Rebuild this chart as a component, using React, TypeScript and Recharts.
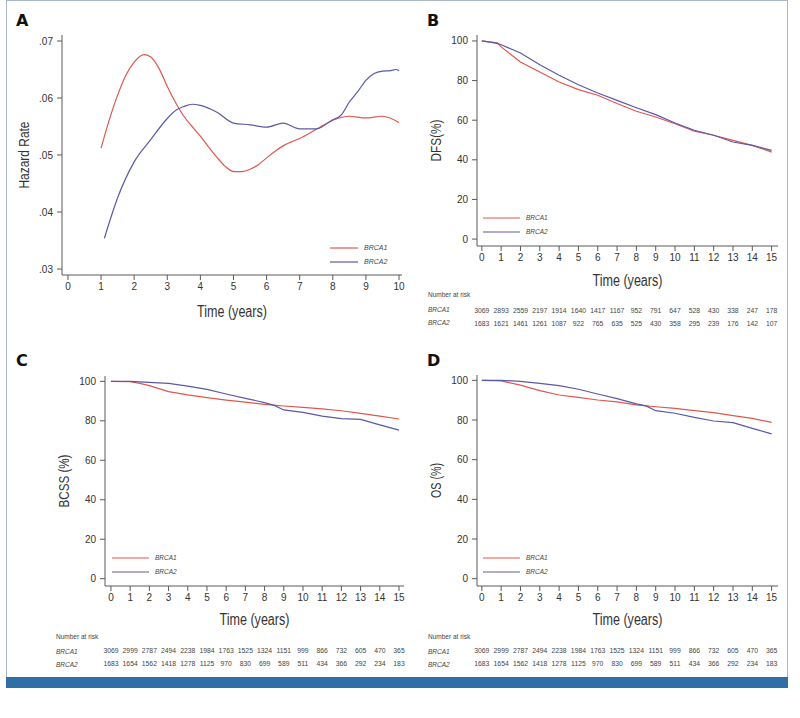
import { LineChart, Line, XAxis, YAxis, Legend } from 'recharts'

const RED = '#e0574f'
const BLUE = '#5a59a6'
const AXIS = '#5a5a5a'
const INK = '#333'
const SANS = '"Liberation Sans", Arial, sans-serif'

// Panel A - smoothed hazard rate
const hazTimes1 = [1.0, 1.25, 1.5, 1.75, 2.0, 2.3, 2.5, 2.75, 3.0, 3.25, 3.5, 3.75, 4.0, 4.25, 4.5, 4.75, 5.0, 5.25, 5.5, 5.75, 6.0, 6.25, 6.5, 6.75, 7.0, 7.5, 8.0, 8.5, 9.0, 9.5, 10.0]
const hazBrca1 = [0.0512, 0.0562, 0.0605, 0.064, 0.0663, 0.0676, 0.0672, 0.0652, 0.062, 0.0592, 0.0568, 0.055, 0.0533, 0.0514, 0.0496, 0.048, 0.0471, 0.0471, 0.0475, 0.0483, 0.0495, 0.0506, 0.0516, 0.0523, 0.0529, 0.0545, 0.0561, 0.0568, 0.0565, 0.0568, 0.0557]
const hazTimes2 = [1.1, 1.5, 2.0, 2.5, 3.0, 3.25, 3.5, 3.75, 4.0, 4.5, 5.0, 5.5, 6.0, 6.5, 7.0, 7.5, 8.0, 8.25, 8.5, 8.75, 9.0, 9.25, 9.5, 9.75, 9.9, 10.0]
const hazBrca2 = [0.0354, 0.0425, 0.0488, 0.0527, 0.0564, 0.0578, 0.0585, 0.0589, 0.0587, 0.0575, 0.0556, 0.0553, 0.0549, 0.0556, 0.0546, 0.0546, 0.0562, 0.057, 0.0593, 0.0611, 0.0631, 0.0643, 0.0647, 0.0648, 0.065, 0.0648]
const hazXTicks = [0, 1, 2, 3, 4, 5, 6, 7, 8, 9, 10]
const hazYTicks = [0.03, 0.04, 0.05, 0.06, 0.07]

// Panels B-D - Kaplan-Meier curves
const years = [0, 1, 2, 3, 4, 5, 6, 7, 8, 9, 10, 11, 12, 13, 14, 15]
const pctTicks = [0, 20, 40, 60, 80, 100]

const dfsTimes = [0, 0.8, 1, 2, 3, 4, 5, 6, 7, 8, 9, 10, 11, 12, 13, 14, 15]
const dfsBrca1 = [100, 99, 97, 89.4, 84.3, 79.3, 75.4, 72.6, 68.4, 64.5, 61.6, 58.2, 54.5, 52.4, 49.8, 47.3, 43.9]
const dfsBrca2 = [100, 98.8, 98.1, 93.9, 88, 82.7, 77.9, 73.7, 70, 66.3, 62.8, 58.6, 54.9, 52.4, 49, 47.3, 44.8]

const bcssTimes1 = [0, 1, 1.5, 2, 3, 4, 5, 6, 7, 8, 9, 10, 11, 12, 13, 14, 15]
const bcssBrca1 = [100, 99.8, 99, 97.8, 94.8, 93.1, 91.7, 90.5, 89.5, 88.3, 87.5, 86.8, 86, 85.1, 83.8, 82.4, 80.9]
const bcssTimes2 = [0, 1, 2, 3, 4, 5, 6, 7, 8, 8.5, 9, 10, 11, 12, 13, 14, 15]
const bcssBrca2 = [100, 100, 99.5, 99, 97.6, 95.9, 93.6, 91.4, 89.2, 87.8, 85.5, 84.3, 82.4, 81.1, 80.7, 77.9, 75.3]

const osTimes1 = [0, 1, 2, 3, 4, 5, 6, 7, 8, 9, 10, 11, 12, 13, 14, 15]
const osBrca1 = [100, 99.7, 97.6, 94.8, 92.6, 91.4, 90.1, 89.1, 87.6, 86.7, 85.9, 84.7, 83.7, 82.2, 80.8, 78.8]
const osTimes2 = [0, 1, 2, 3, 4, 5, 6, 7, 8, 8.5, 9, 10, 11, 12, 13, 14, 15]
const osBrca2 = [100, 100, 99.5, 98.5, 97.3, 95.5, 93.1, 90.8, 88.1, 87.1, 84.7, 83.4, 81.3, 79.5, 78.7, 75.8, 73]

// Number at risk
const dfsRisk1 = [3069, 2893, 2559, 2197, 1914, 1640, 1417, 1167, 952, 791, 647, 528, 430, 338, 247, 178]
const dfsRisk2 = [1683, 1621, 1461, 1261, 1087, 922, 765, 635, 525, 430, 358, 295, 239, 176, 142, 107]
const survRisk1 = [3069, 2999, 2787, 2494, 2238, 1984, 1763, 1525, 1324, 1151, 999, 866, 732, 605, 470, 365]
const survRisk2 = [1683, 1654, 1562, 1418, 1278, 1125, 970, 830, 699, 589, 511, 434, 366, 292, 234, 183]

const pts = (t: number[], v: number[]) => t.map((x, i) => ({ t: x, v: v[i] }))

function makeTick(risk1?: number[], risk2?: number[]) {
  return (props: any) => {
    const { x, y, payload } = props
    const i = payload.value
    const numStyle = { fontSize: 6.8, fill: '#444', fontFamily: SANS }
    return (
      <g>
        <text x={x} y={y} dy="0.71em" textAnchor="middle" fontSize={10} fill={INK} fontFamily={SANS}>
          {payload.value}
        </text>
        {risk1 && (
          <text x={x} y={y + 58.5} textAnchor="middle" {...numStyle}>
            {risk1[i]}
          </text>
        )}
        {risk2 && (
          <text x={x} y={y + 71.5} textAnchor="middle" {...numStyle}>
            {risk2[i]}
          </text>
        )}
      </g>
    )
  }
}

function legendContent(len: number, size: number) {
  return ({ payload }: any) => (
    <svg width={len + 50} height={28} style={{ display: 'block' }}>
      {(payload || []).map((p: any, i: number) => (
        <g key={p.value}>
          <line x1={0} x2={len} y1={7 + i * 14} y2={7 + i * 14} stroke={p.color} strokeWidth={1.2} />
          <text x={len + 6} y={7 + i * 14} dy="0.35em" fontSize={size} fontStyle="italic" fill="#444" fontFamily={SANS}>
            {p.value}
          </text>
        </g>
      ))}
    </svg>
  )
}

type PanelProps = {
  left: number
  top: number
  width: number
  height: number
  margin: { top: number; right: number; bottom: number; left: number }
  yWidth: number
  xHeight: number
  xDomain: number[]
  xTicks: number[]
  yDomain: number[]
  yTicks: number[]
  yFormat?: (v: number) => string
  yLabel: string
  yLabelOffset: number
  yLabelLen: number
  s1: { t: number; v: number }[]
  s2: { t: number; v: number }[]
  legendLeft: number
  legendTop: number
  legendLen: number
  legendSize: number
  risk1?: number[]
  risk2?: number[]
  curve: 'monotone' | 'linear'
}

function Panel(p: PanelProps) {
  const plotW = p.width - p.margin.left - p.margin.right - p.yWidth
  const plotH = p.height - p.margin.top - p.margin.bottom - p.xHeight
  const xTitleX = p.margin.left + p.yWidth + plotW / 2
  const xTitleY = p.height - p.margin.bottom
  const yTitleX = p.margin.left + p.yLabelOffset
  const yTitleY = p.margin.top + plotH / 2
  // condensed look of the original axis titles
  const xTitle = () => (
    <text x={xTitleX} y={xTitleY} textAnchor="middle" fontSize={16} fill={INK} fontFamily={SANS}
      textLength={70} lengthAdjust="spacingAndGlyphs">
      Time (years)
    </text>
  )
  const yTitle = () => (
    <text x={yTitleX} y={yTitleY} dy="0.36em" textAnchor="middle" fontSize={15.5} fill={INK} fontFamily={SANS}
      transform={`rotate(-90 ${yTitleX} ${yTitleY})`} textLength={p.yLabelLen} lengthAdjust="spacingAndGlyphs">
      {p.yLabel}
    </text>
  )
  return (
    <div style={{ position: 'absolute', left: p.left, top: p.top }}>
      <LineChart width={p.width} height={p.height} margin={p.margin}>
        <XAxis
          dataKey="t"
          type="number"
          domain={p.xDomain}
          ticks={p.xTicks}
          interval={0}
          allowDataOverflow
          height={p.xHeight}
          stroke={AXIS}
          tickSize={5}
          tickMargin={3}
          tick={makeTick(p.risk1, p.risk2)}
          label={xTitle}
        />
        <YAxis
          type="number"
          domain={p.yDomain}
          ticks={p.yTicks}
          interval={0}
          allowDataOverflow
          width={p.yWidth}
          stroke={AXIS}
          tickSize={5}
          tickMargin={4}
          tickFormatter={p.yFormat}
          tick={{ fontSize: 10, fill: INK, fontFamily: SANS }}
          label={yTitle}
        />
        <Legend
          layout="horizontal"
          verticalAlign="middle"
          align="center"
          content={legendContent(p.legendLen, p.legendSize)}
          wrapperStyle={{ left: p.legendLeft, top: p.legendTop, width: 'auto', height: 'auto' }}
        />
        <Line data={p.s1} dataKey="v" name="BRCA1" type={p.curve} stroke={RED} strokeWidth={1.2} dot={false} isAnimationActive={false} />
        <Line data={p.s2} dataKey="v" name="BRCA2" type={p.curve} stroke={BLUE} strokeWidth={1.2} dot={false} isAnimationActive={false} />
      </LineChart>
    </div>
  )
}

const letterStyle = { fontFamily: '"DejaVu Sans", sans-serif', fontWeight: 700, fontSize: 16, fill: '#111' }
const rowStyle = { fontFamily: SANS, fontSize: 6.5, fill: '#444' }

function RiskLabels({ x, y }: { x: number; y: number }) {
  return (
    <g>
      <text x={x} y={y} {...rowStyle}>Number at risk</text>
      <text x={x} y={y + 15} {...rowStyle} fontStyle="italic">BRCA1</text>
      <text x={x} y={y + 28} {...rowStyle} fontStyle="italic">BRCA2</text>
    </g>
  )
}

export default function App() {
  const pctFmt = (v: number) => String(v)
  const hazFmt = (v: number) => v.toFixed(2).replace(/^0/, '')
  return (
    <div style={{ position: 'absolute', left: 0, top: 0, width: 800, height: 718, background: '#fff', overflow: 'hidden' }}>
      {/* frame and bottom bar */}
      <div style={{ position: 'absolute', left: 6, top: 0, width: 780, height: 677, border: '1px solid #a9b9c8', borderBottom: 'none' }} />
      <div style={{ position: 'absolute', left: 6, top: 677, width: 782, height: 11, background: '#2f6fa8' }} />

      <svg width={800} height={718} style={{ position: 'absolute', left: 0, top: 0 }}>
        <text x={16} y={26} {...letterStyle}>A</text>
        <text x={427} y={26} {...letterStyle}>B</text>
        <text x={16} y={366} {...letterStyle}>C</text>
        <text x={427} y={366} {...letterStyle}>D</text>
        <RiskLabels x={428} y={297.3} />
        <RiskLabels x={56} y={639.3} />
        <RiskLabels x={428} y={639.3} />
      </svg>

      <Panel
        left={0} top={0} width={410} height={330}
        margin={{ top: 35, right: 8, bottom: 13, left: 0 }}
        yWidth={62} xHeight={42}
        xDomain={[-0.18, 10.09]} xTicks={hazXTicks}
        yDomain={[0.02895, 0.07105]} yTicks={hazYTicks} yFormat={hazFmt}
        yLabel="Hazard Rate" yLabelOffset={23} yLabelLen={67}
        s1={pts(hazTimes1, hazBrca1)} s2={pts(hazTimes2, hazBrca2)}
        legendLeft={330} legendTop={241} legendLen={28} legendSize={7}
        curve="monotone"
      />
      <Panel
        left={400} top={0} width={390} height={335}
        margin={{ top: 35, right: 12, bottom: 49, left: 0 }}
        yWidth={77} xHeight={40}
        xDomain={[-0.25, 15.33]} xTicks={years}
        yDomain={[-3.5, 103]} yTicks={pctTicks} yFormat={pctFmt}
        yLabel="DFS(%)" yLabelOffset={35} yLabelLen={42}
        s1={pts(dfsTimes, dfsBrca1)} s2={pts(dfsTimes, dfsBrca2)}
        legendLeft={83} legendTop={211} legendLen={37} legendSize={6.5}
        risk1={dfsRisk1} risk2={dfsRisk2}
        curve="linear"
      />
      <Panel
        left={0} top={340} width={410} height={340}
        margin={{ top: 36, right: 6, bottom: 55, left: 0 }}
        yWidth={105} xHeight={39}
        xDomain={[-0.31, 15.26]} xTicks={years}
        yDomain={[-3.7, 102.7]} yTicks={pctTicks} yFormat={pctFmt}
        yLabel="BCSS (%)" yLabelOffset={63} yLabelLen={53}
        s1={pts(bcssTimes1, bcssBrca1)} s2={pts(bcssTimes2, bcssBrca2)}
        legendLeft={112} legendTop={211} legendLen={37} legendSize={6.5}
        risk1={survRisk1} risk2={survRisk2}
        curve="linear"
      />
      <Panel
        left={400} top={340} width={390} height={340}
        margin={{ top: 35, right: 12, bottom: 55, left: 0 }}
        yWidth={77} xHeight={39}
        xDomain={[-0.25, 15.33]} xTicks={years}
        yDomain={[-3.7, 102.7]} yTicks={pctTicks} yFormat={pctFmt}
        yLabel="OS (%)" yLabelOffset={35} yLabelLen={35}
        s1={pts(osTimes1, osBrca1)} s2={pts(osTimes2, osBrca2)}
        legendLeft={83} legendTop={211} legendLen={37} legendSize={6.5}
        risk1={survRisk1} risk2={survRisk2}
        curve="linear"
      />
    </div>
  )
}
